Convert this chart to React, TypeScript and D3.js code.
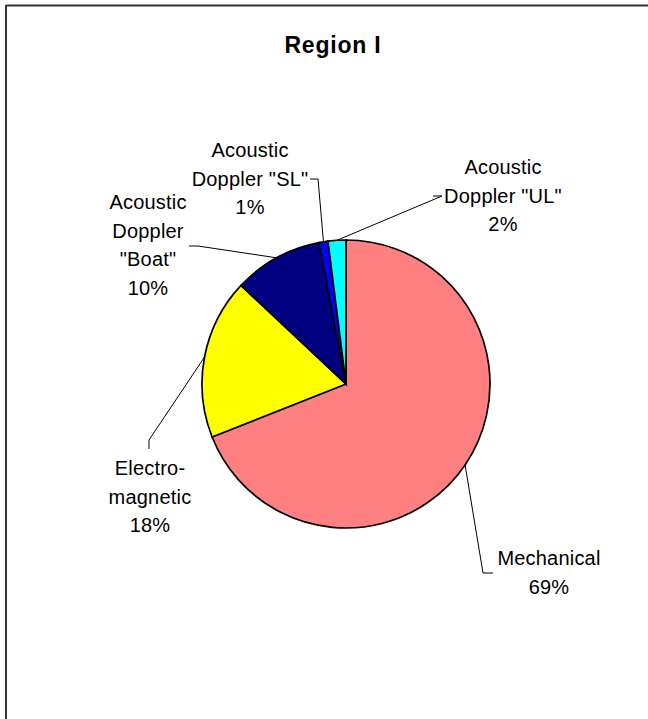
import React from "react";
import * as d3 from "d3";

const categories = ["Mechanical", "Electromagnetic", "Acoustic Doppler \"Boat\"", "Acoustic Doppler \"SL\"", "Acoustic Doppler \"UL\""];
const values = [69, 18, 10, 1, 2];
const percentLabels = ["69%", "18%", "10%", "1%", "2%"];
const labelLines = [
  ["Mechanical"],
  ["Electro-", "magnetic"],
  ["Acoustic", "Doppler", "\"Boat\""],
  ["Acoustic", "Doppler \"SL\""],
  ["Acoustic", "Doppler \"UL\""],
];
const colors = ["#FF8080", "#FFFF00", "#000080", "#0000FF", "#00FFFF"];
const title = "Region I";

// layout: label text centre (x, first-line y) and leader elbow points
const layout = [
  { x: 549, y: 558, elbow: [483, 573], end: [493, 573] },
  { x: 150, y: 468, elbow: [149, 440], end: [149, 449] },
  { x: 148, y: 202, elbow: [198, 246], end: [189, 246] },
  { x: 250, y: 150, elbow: [318, 179], end: [310, 179] },
  { x: 503, y: 167, elbow: [442, 196], end: [433, 196] },
];

export default function App() {
  const W = 648, H = 719;
  const cx = 346, cy = 384, r = 144;
  const pie = d3.pie<number>().sort(null).value((d) => d).startAngle(0).endAngle(2 * Math.PI);
  const arcs = pie(values);
  const arc = d3.arc<d3.PieArcDatum<number>>().innerRadius(0).outerRadius(r);
  const lh = 28.5;
  const font = "'Liberation Sans', Arial, sans-serif";
  return (
    <svg width={W} height={H} style={{ position: "absolute", left: 0, top: 0, background: "#fff" }}>
      <rect x={0} y={0} width={W} height={H} fill="#fff" />
      <line x1={6} y1={5.5} x2={W + 5} y2={5.5} stroke="#333" strokeWidth={2} />
      <line x1={6} y1={5} x2={6} y2={H + 5} stroke="#333" strokeWidth={2} />
      <text x={333} y={45} textAnchor="middle" dominantBaseline="central" fontFamily={font} fontWeight="bold" fontSize={23} letterSpacing={0.8}>
        {title}
      </text>
      <g transform={`translate(${cx},${cy})`}>
        {arcs.map((a, i) => (
          <path key={categories[i]} d={arc(a) || ""} fill={colors[i]} stroke="#000" strokeWidth={1.7} />
        ))}
      </g>
      {arcs.map((a, i) => {
        const mid = (a.startAngle + a.endAngle) / 2;
        const px = cx + r * Math.sin(mid);
        const py = cy - r * Math.cos(mid);
        const L = layout[i];
        return (
          <polyline
            key={"l" + i}
            points={`${px},${py} ${L.elbow[0]},${L.elbow[1]} ${L.end[0]},${L.end[1]}`}
            fill="none"
            stroke="#000"
            strokeWidth={1}
          />
        );
      })}
      {labelLines.map((lines, i) => {
        const L = layout[i];
        const all = [...lines, percentLabels[i]];
        return (
          <text key={"t" + i} fontFamily={font} fontSize={20} letterSpacing={0.2} textAnchor="middle" fill="#000">
            {all.map((s, j) => (
              <tspan key={j} x={L.x} y={L.y + j * lh} dominantBaseline="central">
                {s}
              </tspan>
            ))}
          </text>
        );
      })}
    </svg>
  );
}
